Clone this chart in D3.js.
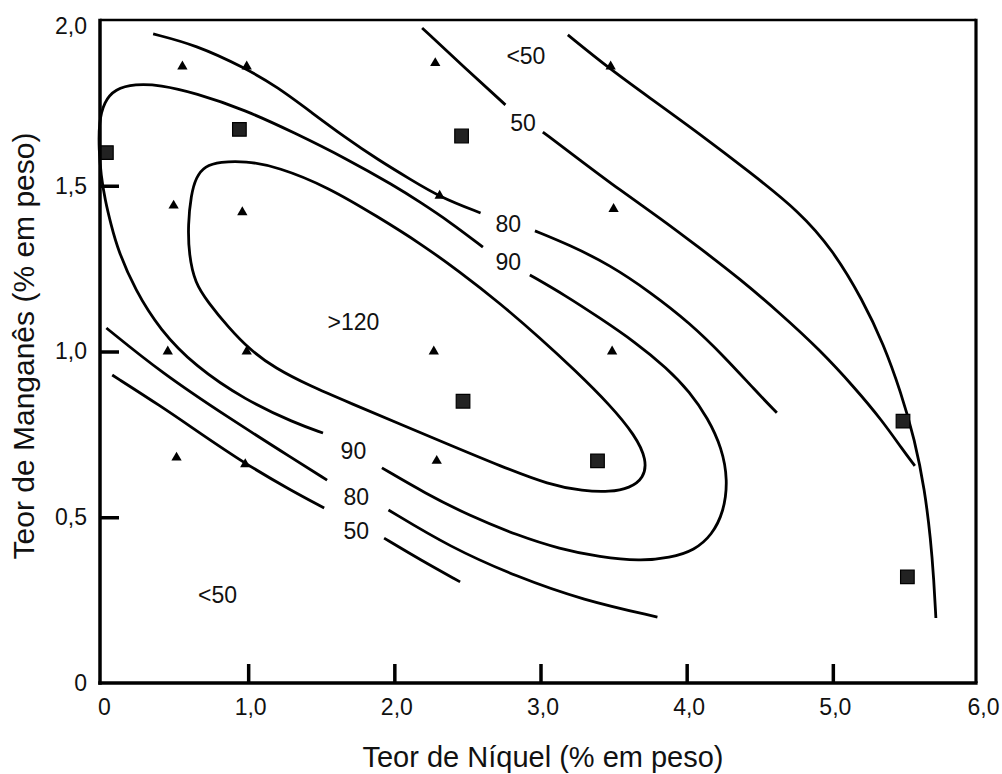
<!DOCTYPE html>
<html>
<head>
<meta charset="utf-8">
<script src="https://cdn.jsdelivr.net/npm/d3@7"></script>
<style>
  html, body { margin: 0; padding: 0; background: #ffffff; }
  svg { display: block; font-family: "Liberation Sans", Arial, Helvetica, sans-serif; }
</style>
</head>
<body>
<script>
// ---------------- DATA ----------------
const xTicks = [0, 1, 2, 3, 4, 5, 6];
const yTicks = [0, 0.5, 1, 1.5, 2];
const xTitle = "Teor de Níquel (% em peso)";
const yTitle = "Teor de Manganês (% em peso)";

// sample points (Ni %, Mn %)
const triangleNi = [0.55, 0.99, 2.28, 3.48, 0.49, 0.96, 2.31, 3.50, 0.45, 0.99, 2.27, 3.49, 0.51, 0.98, 2.29];
const triangleMn = [1.86, 1.86, 1.87, 1.86, 1.44, 1.42, 1.47, 1.43, 1.00, 1.00, 1.00, 1.00, 0.68, 0.66, 0.67];
const squareNi = [0.03, 0.94, 2.46, 2.47, 3.39, 5.48, 5.51];
const squareMn = [1.60, 1.67, 1.65, 0.85, 0.67, 0.79, 0.32];

// contour lines, [Ni, Mn]
const c50UpperLeft = [[2.19, 1.976], [2.47, 1.861], [2.76, 1.744]];
const c50UpperRight = [[3.016, 1.662], [3.269, 1.578], [3.543, 1.487], [3.817, 1.403], [4.090, 1.312], [4.364, 1.219],
  [4.637, 1.116], [4.911, 1.005], [5.151, 0.890], [5.335, 0.793], [5.479, 0.703], [5.561, 0.655]];
const cOuter = [[3.187, 1.955], [3.475, 1.852], [3.748, 1.765], [4.090, 1.656], [4.432, 1.541], [4.774, 1.421],
  [5.000, 1.306], [5.205, 1.155], [5.349, 1.020], [5.465, 0.878], [5.561, 0.733], [5.629, 0.582],
  [5.670, 0.431], [5.691, 0.311], [5.705, 0.196]];
const c80UpperLeft = [[0.35, 1.958], [0.64, 1.925], [0.98, 1.855], [1.20, 1.798], [1.44, 1.719], [1.66, 1.647],
  [1.89, 1.578], [2.107, 1.520], [2.31, 1.466], [2.59, 1.418]];
const c80UpperRight = [[2.962, 1.364], [3.201, 1.321], [3.475, 1.261], [3.748, 1.180], [4.022, 1.086],
  [4.261, 0.983], [4.466, 0.884], [4.617, 0.815]];
const c90Left = [[2.606, 1.315], [2.380, 1.391], [2.175, 1.451], [2.004, 1.499], [1.662, 1.584], [1.320, 1.659],
  [0.978, 1.729], [0.636, 1.780], [0.397, 1.804], [0.226, 1.807], [0.089, 1.792], [0.014, 1.753],
  [-0.021, 1.692], [-0.021, 1.608], [-0.007, 1.532], [0.021, 1.457], [0.062, 1.382], [0.109, 1.306],
  [0.226, 1.186], [0.397, 1.065], [0.636, 0.956], [0.978, 0.854], [1.320, 0.784], [1.512, 0.754]];
const c90Right = [[1.915, 0.649], [2.209, 0.573], [2.517, 0.504], [2.839, 0.446], [3.133, 0.404], [3.406, 0.380],
  [3.680, 0.368], [3.885, 0.377], [4.056, 0.401], [4.172, 0.446], [4.254, 0.516], [4.282, 0.612],
  [4.241, 0.709], [4.145, 0.799], [4.022, 0.878], [3.865, 0.950], [3.646, 1.029], [3.406, 1.101],
  [3.167, 1.170], [2.927, 1.231]];
const c120 = [[0.705, 1.560], [0.807, 1.572], [0.978, 1.575], [1.204, 1.557], [1.546, 1.496], [1.888, 1.406],
  [2.175, 1.327], [2.449, 1.240], [2.722, 1.146], [2.996, 1.041], [3.235, 0.944], [3.475, 0.839],
  [3.646, 0.748], [3.728, 0.673], [3.707, 0.618], [3.611, 0.588], [3.475, 0.576], [3.290, 0.579],
  [3.064, 0.597], [2.722, 0.655], [2.380, 0.718], [2.038, 0.781], [1.696, 0.845], [1.423, 0.896],
  [1.183, 0.950], [1.012, 1.005], [0.862, 1.074], [0.725, 1.149], [0.636, 1.207], [0.595, 1.291],
  [0.588, 1.382], [0.609, 1.472], [0.643, 1.526]];
const c80LowerLeft = [[0.03, 1.071], [0.41, 0.935], [0.86, 0.802], [1.32, 0.673], [1.54, 0.612]];
const c80LowerRight = [[1.96, 0.522], [2.38, 0.410], [2.84, 0.320], [3.29, 0.250], [3.80, 0.199]];
const c50LowerLeft = [[0.07, 0.929], [0.41, 0.833], [0.64, 0.763], [0.98, 0.661], [1.29, 0.582], [1.52, 0.528]];
const c50LowerRight = [[1.93, 0.437], [2.18, 0.371], [2.45, 0.305]];

// contour labels
const labelText = ["<50", "50", "80", "90", ">120", "90", "80", "50", "<50"];
const labelNi = [2.90, 2.88, 2.78, 2.78, 1.72, 1.72, 1.74, 1.74, 0.79];
const labelMn = [1.89, 1.69, 1.385, 1.27, 1.09, 0.70, 0.56, 0.46, 0.265];

// ---------------- DRAWING ----------------
const W = 1002, H = 774;
const svg = d3.select("body").append("svg").attr("width", W).attr("height", H);

const x = d3.scaleLinear().domain([0, 6]).range([102, 979]);
const y = d3.scaleLinear().domain([0, 2]).range([683, 20]);

const frameL = 100, frameR = 976, frameT = y(2), frameB = y(0);

const fmt = v => v === 0 ? "0" : d3.format(".1f")(v).replace(".", ",");

// contour lines
const line = d3.line().x(d => x(d[0])).y(d => y(d[1])).curve(d3.curveBasis);
const lineClosed = d3.line().x(d => x(d[0])).y(d => y(d[1])).curve(d3.curveBasisClosed);

const openCurves = [c50UpperLeft, c50UpperRight, cOuter, c80UpperLeft, c80UpperRight, c90Left, c90Right,
                    c80LowerLeft, c80LowerRight, c50LowerLeft, c50LowerRight];
const gLines = svg.append("g").attr("fill", "none").attr("stroke", "#000").attr("stroke-width", 2.8)
  .attr("stroke-linecap", "butt");
gLines.selectAll("path.open").data(openCurves).join("path").attr("class", "open").attr("d", line);
gLines.append("path").datum(c120).attr("d", lineClosed);

// markers
const tri = d3.symbol().type(d3.symbolTriangle).size(46);
svg.append("g").selectAll("path").data(triangleNi.map((n, i) => [n, triangleMn[i]])).join("path")
  .attr("d", tri).attr("transform", d => `translate(${x(d[0])},${y(d[1])})`).attr("fill", "#000");

const sq = d3.symbol().type(d3.symbolSquare).size(185);
svg.append("g").selectAll("path").data(squareNi.map((n, i) => [n, squareMn[i]])).join("path")
  .attr("d", sq).attr("transform", d => `translate(${x(d[0])},${y(d[1])})`)
  .attr("fill", "#222").attr("stroke", "#000").attr("stroke-width", 1.2);

// contour labels
svg.append("g").selectAll("text").data(labelText).join("text")
  .attr("x", (d, i) => x(labelNi[i])).attr("y", (d, i) => y(labelMn[i]))
  .attr("text-anchor", "middle").attr("dominant-baseline", "central")
  .attr("font-size", 23).attr("fill", "#111").text(d => d);

// axes
const xAxis = d3.axisBottom(x).tickValues(xTicks).tickSize(-19).tickPadding(16).tickFormat(fmt);
const gx = svg.append("g").attr("transform", `translate(0,${frameB})`).call(xAxis);
gx.select(".domain").remove();
gx.selectAll(".tick line").attr("stroke", "#000").attr("stroke-width", 3.5)
  .attr("display", d => (d === 0 || d === 6) ? "none" : null);
gx.selectAll(".tick text").attr("font-size", 23).attr("fill", "#111").attr("font-family", null)
  .attr("dx", d => d === 6 ? 4 : 2);

const yAxis = d3.axisLeft(y).tickValues(yTicks).tickSize(-19).tickPadding(13).tickFormat(fmt);
const gy = svg.append("g").attr("transform", `translate(${frameL},0)`).call(yAxis);
gy.select(".domain").remove();
gy.selectAll(".tick line").attr("stroke", "#000").attr("stroke-width", 3.5)
  .attr("display", d => (d === 0 || d === 2) ? "none" : null);
gy.selectAll(".tick text").attr("font-size", 23).attr("fill", "#111").attr("font-family", null)
  .attr("dy", d => d === 2 ? "0.6em" : "0.32em");

// frame
const gf = svg.append("g").attr("stroke", "#000").attr("fill", "none");
gf.append("line").attr("x1", frameL).attr("x2", frameR).attr("y1", frameT).attr("y2", frameT).attr("stroke-width", 2.6);
gf.append("line").attr("x1", frameR).attr("x2", frameR).attr("y1", frameT - 1.3).attr("y2", frameB).attr("stroke-width", 3.2);
gf.append("line").attr("x1", frameL).attr("x2", frameL).attr("y1", frameT - 1.3).attr("y2", frameB + 1.75).attr("stroke-width", 3.5);
gf.append("line").attr("x1", frameL - 1.75).attr("x2", frameR + 1.6).attr("y1", frameB).attr("y2", frameB).attr("stroke-width", 3.5);

// titles
svg.append("text").attr("x", 543).attr("y", 767).attr("text-anchor", "middle")
  .attr("font-size", 29).attr("fill", "#111").text(xTitle);
svg.append("text").attr("transform", "translate(34,346) rotate(-90)").attr("text-anchor", "middle")
  .attr("font-size", 30).attr("fill", "#111").text(yTitle);
</script>
</body>
</html>
